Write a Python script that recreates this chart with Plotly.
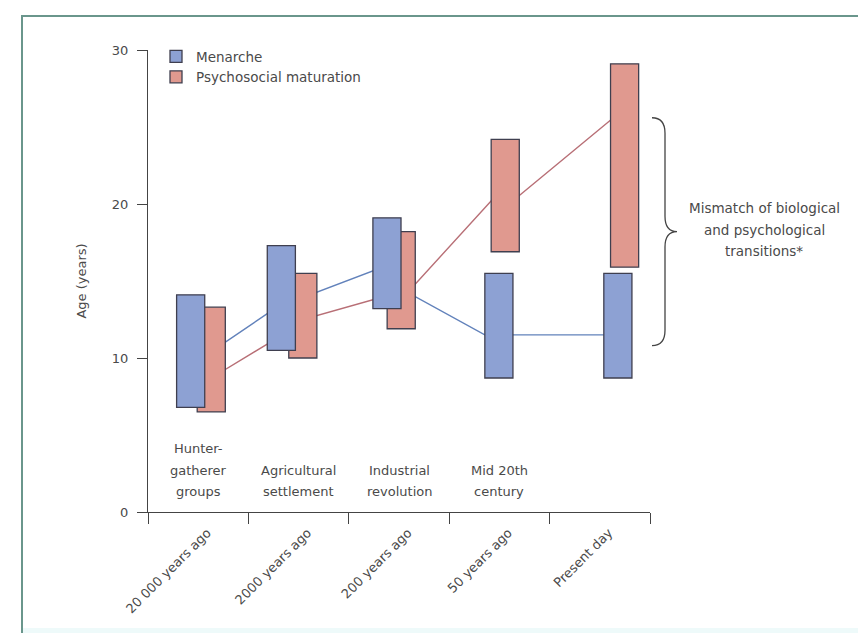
import plotly.graph_objects as go

# ---------------- data ----------------
periods = ["20 000 years ago", "2000 years ago", "200 years ago", "50 years ago", "Present day"]
eras = [["Hunter-", "gatherer", "groups"], ["Agricultural", "settlement"],
        ["Industrial", "revolution"], ["Mid 20th", "century"], []]

menarche_low = [6.8, 10.5, 13.2, 8.7, 8.7]
menarche_high = [14.1, 17.3, 19.1, 15.5, 15.5]
maturation_low = [6.5, 10.0, 11.9, 16.9, 15.9]
maturation_high = [13.3, 15.5, 18.2, 24.2, 29.1]

# connecting lines: value where the line meets each bar (entering / leaving)
menarche_line_in = [9.5, 13.5, 16.0, 11.0, 11.5]
menarche_line_out = [9.5, 13.4, 15.0, 11.5, 11.5]
maturation_line_in = [8.7, 12.3, 14.3, 21.2, 26.2]
maturation_line_out = [8.7, 12.5, 13.8, 19.8, 26.2]

mismatch_text = ["Mismatch of biological", "and psychological", "transitions*"]

# ---------------- style / layout ----------------
OFF = 8                      # page body margin
W, H = 866 - OFF, 633 - OFF
L, R, T, B = 148 - OFF, 650 - OFF, 50 - OFF, 512 - OFF
FONT = "DejaVu Sans"
FS = 13.5
TXT = "#4a4a4a"
BLUE = "#8da1d3"
PINK = "#e0998f"
EDGE = "#3f3f4f"
BLUE_LINE = "#6282bb"
PINK_LINE = "#b86f76"

bar_width = 0.28
menarche_offset = [-0.215, -0.312, -0.26, -0.145, 0.04]
maturation_offset = [-0.01, -0.098, -0.118, -0.082, 0.107]


def px_x(px):
    return (px - OFF - L) / (R - L)


def px_y(py):
    return (B - (py - OFF)) / (B - T)


def line_path(offsets, vin, vout):
    xs, ys = [], []
    for i in range(len(periods)):
        c = i + offsets[i] + bar_width / 2
        xs += [c, c]
        ys += [vin[i], vout[i]]
    return xs, ys


fig = go.Figure()

# lines (on base axes, beneath the bars)
bx, by = line_path(menarche_offset, menarche_line_in, menarche_line_out)
fig.add_trace(go.Scatter(x=bx, y=by, mode="lines", line=dict(color=BLUE_LINE, width=1.4),
                         showlegend=False, hoverinfo="skip", xaxis="x", yaxis="y"))
px_, py_ = line_path(maturation_offset, maturation_line_in, maturation_line_out)
fig.add_trace(go.Scatter(x=px_, y=py_, mode="lines", line=dict(color=PINK_LINE, width=1.4),
                         showlegend=False, hoverinfo="skip", xaxis="x", yaxis="y"))

# bars (overlaid axis, drawn on top)
fig.add_trace(go.Bar(
    x=periods, base=maturation_low,
    y=[h - l for h, l in zip(maturation_high, maturation_low)],
    width=bar_width, offset=maturation_offset,
    marker=dict(color=PINK, line=dict(color=EDGE, width=1.3)),
    name="Psychosocial maturation", legendrank=2, xaxis="x2", yaxis="y"))
fig.add_trace(go.Bar(
    x=periods, base=menarche_low,
    y=[h - l for h, l in zip(menarche_high, menarche_low)],
    width=bar_width, offset=menarche_offset,
    marker=dict(color=BLUE, line=dict(color=EDGE, width=1.3)),
    name="Menarche", legendrank=1, xaxis="x2", yaxis="y"))

annotations = []
# era labels above the axis
line_y = [448, 470, 491]
for i, lines in enumerate(eras):
    start = len(line_y) - len(lines)
    for j, txt in enumerate(lines):
        annotations.append(dict(text=txt, x=i, xref="x", y=px_y(line_y[start + j]), yref="paper",
                                showarrow=False, xanchor="center", yanchor="middle",
                                font=dict(family=FONT, size=13, color=TXT)))
# mismatch note
for j, txt in enumerate(mismatch_text):
    annotations.append(dict(text=txt, x=px_x(764), xref="paper", y=px_y(208 + 21.5 * j), yref="paper",
                            showarrow=False, xanchor="center", yanchor="middle",
                            font=dict(family=FONT, size=FS, color=TXT)))

# brace spanning the present-day gap between the two lines
top = maturation_line_in[-1] - 0.6
bot = menarche_line_in[-1] - 0.7
mid = (top + bot) / 2
x0, x1, x2 = px_x(652), px_x(665), px_x(677)
d = 1.0
brace = (f"M{x0},{top} Q{x1},{top} {x1},{top - d} L{x1},{mid + d} Q{x1},{mid} {x2},{mid} "
         f"Q{x1},{mid} {x1},{mid - d} L{x1},{bot + d} Q{x1},{bot} {x0},{bot}")

shapes = [
    dict(type="rect", xref="paper", yref="paper", x0=px_x(23), x1=px_x(880), y0=px_y(628), y1=px_y(650),
         fillcolor="#eefafa", line=dict(width=0), layer="below"),
    dict(type="rect", xref="paper", yref="paper", x0=px_x(22), x1=px_x(900), y0=px_y(16), y1=px_y(700),
         fillcolor="rgba(0,0,0,0)", line=dict(color="#6a968c", width=2)),
    dict(type="path", xref="paper", yref="y", path=brace, line=dict(color="#444444", width=1.3)),
]

fig.update_layout(
    width=W, height=H,
    margin=dict(l=L, r=W - R, t=T, b=H - B, autoexpand=False),
    paper_bgcolor="white", plot_bgcolor="rgba(0,0,0,0)",
    barmode="overlay",
    font=dict(family=FONT, size=FS, color=TXT),
    xaxis=dict(type="linear", range=[-0.5, 4.5], visible=False, fixedrange=True),
    xaxis2=dict(type="category", overlaying="x", anchor="y", side="bottom", range=[-0.5, 4.5],
                categoryorder="array", categoryarray=periods,
                showline=True, linecolor="#444444", linewidth=1.2,
                ticks="outside", tickson="boundaries", ticklen=11, tickcolor="#444444", tickwidth=1.2,
                tickangle=-45, showgrid=False, zeroline=False,
                ticklabelstandoff=7, ticklabelshift=9,
                tickfont=dict(family=FONT, size=13, color=TXT)),
    yaxis=dict(range=[0, 30], tickvals=[0, 10, 20, 30], showline=True, linecolor="#444444", linewidth=1.2,
               ticks="outside", ticklen=10, tickcolor="#444444", tickwidth=1.2,
               showgrid=False, zeroline=False, ticklabelstandoff=6,
               title=dict(text="Age (years)", font=dict(family=FONT, size=13, color=TXT), standoff=22),
               tickfont=dict(family=FONT, size=13, color=TXT)),
    legend=dict(x=px_x(156), y=px_y(41), xanchor="left", yanchor="top",
                bgcolor="rgba(0,0,0,0)", font=dict(family=FONT, size=FS, color=TXT),
                traceorder="normal", itemclick=False),
    annotations=annotations,
    shapes=shapes,
)

fig.write_html("out.html")
